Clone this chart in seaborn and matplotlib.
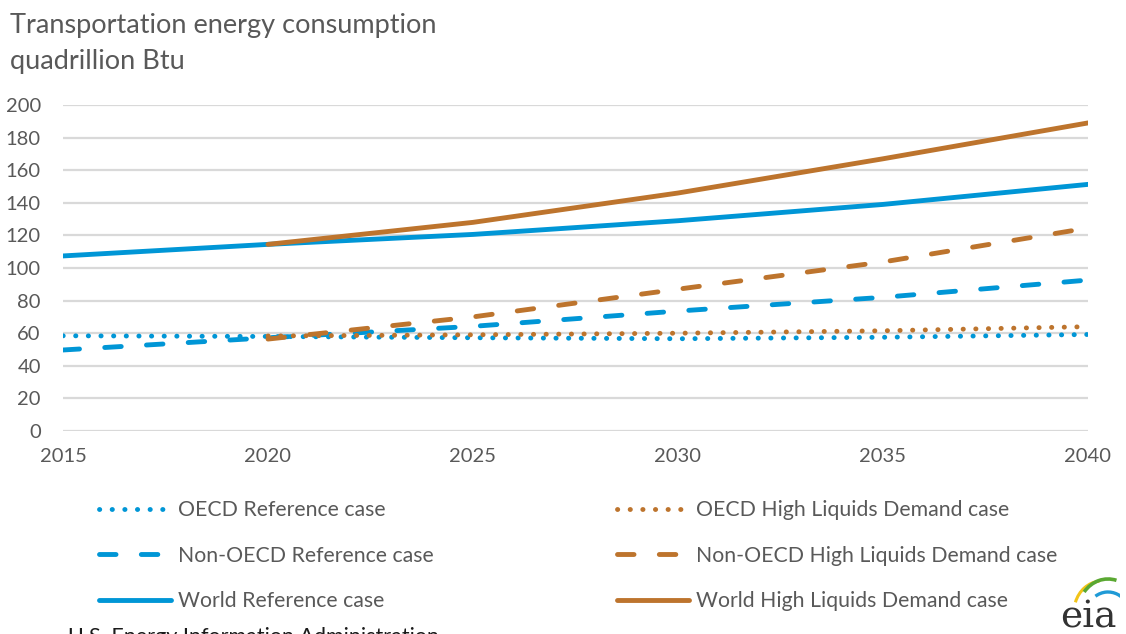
import matplotlib
matplotlib.use("Agg")
import matplotlib.pyplot as plt
import seaborn as sns
import pandas as pd
import numpy as np
from matplotlib.patches import Arc

# ---- data ----
years = [2015, 2020, 2025, 2030, 2035, 2040]
high_years = [2020, 2025, 2030, 2035, 2040]

oecd_ref = [58.4, 58.0, 57.2, 56.6, 57.5, 59.2]
nonoecd_ref = [49.7, 57.2, 64.2, 73.6, 82.0, 92.6]
world_ref = [107.4, 114.5, 120.6, 129.0, 139.0, 151.3]

oecd_high = [58.3, 59.0, 60.0, 61.5, 64.0]
nonoecd_high = [56.4, 70.0, 87.0, 103.7, 124.5]
world_high = [114.5, 128.0, 146.0, 167.0, 189.0]

yticks = [0, 20, 40, 60, 80, 100, 120, 140, 160, 180, 200]
xticks = [2015, 2020, 2025, 2030, 2035, 2040]

BLUE = "#0096d6"
BROWN = "#bd742d"
TEXT = "#595959"

sns.set_theme(style="white")
plt.rcParams["font.family"] = ["Lato", "DejaVu Sans"]

fig = plt.figure(figsize=(11.26, 6.34), dpi=100)
ax = fig.add_axes([63 / 1126, 1 - 431 / 634, (1088 - 63) / 1126, (431 - 105) / 634])

LW = 3.5
DOT = (0, (0.05, 2.55))
DASH = (0, (3.4, 5.2))

series = [
    ("OECD Reference case", years, oecd_ref, BLUE, DOT),
    ("Non-OECD Reference case", years, nonoecd_ref, BLUE, DASH),
    ("World Reference case", years, world_ref, BLUE, "-"),
    ("OECD High Liquids Demand case", high_years, oecd_high, BROWN, DOT),
    ("Non-OECD High Liquids Demand case", high_years, nonoecd_high, BROWN, DASH),
    ("World High Liquids Demand case", high_years, world_high, BROWN, "-"),
]

handles = []
for name, xs, ys, col, ls in series:
    df = pd.DataFrame({"year": xs, "value": ys})
    sns.lineplot(data=df, x="year", y="value", ax=ax, color=col, linewidth=LW,
                 linestyle=ls, label=name, legend=False)
    ln = ax.lines[-1]
    ln.set_dash_capstyle("round")
    ln.set_solid_capstyle("round")
    ln.set_solid_joinstyle("round")
    handles.append(ln)

ax.set_xlim(2015, 2040)
ax.set_ylim(0, 200)
ax.set_xticks(xticks)
ax.set_yticks(yticks)
ax.set_xticklabels([str(v) for v in xticks])
ax.set_yticklabels([str(v) for v in yticks])
ax.set_xlabel("")
ax.set_ylabel("")
ax.grid(axis="y", color="#d9d9d9", linewidth=1.6)
ax.grid(axis="x", visible=False)
ax.set_axisbelow(True)
for s in ax.spines.values():
    s.set_visible(False)
ax.tick_params(axis="both", length=0, labelsize=14.5, colors=TEXT)
ax.tick_params(axis="y", pad=16)
ax.tick_params(axis="x", pad=12)

# title
fig.text(10 / 1126, 1 - 25 / 634, "Transportation energy consumption", fontsize=19.5,
         color=TEXT, va="center", ha="left")
fig.text(10 / 1126, 1 - 62 / 634, "quadrillion Btu", fontsize=19.5,
         color=TEXT, va="center", ha="left")

# legends
leg_kw = dict(frameon=False, fontsize=15.3, handlelength=3.4, handletextpad=0.3,
              labelspacing=1.2, labelcolor=TEXT, borderaxespad=0, borderpad=0)
leg1 = fig.legend(handles[:3], [s[0] for s in series[:3]], loc="upper left",
                  bbox_to_anchor=(99 / 1126, 1 - 500 / 634), **leg_kw)
leg2 = fig.legend(handles[3:], [s[0] for s in series[3:]], loc="upper left",
                  bbox_to_anchor=(617 / 1126, 1 - 500 / 634), **leg_kw)

# source line (cut off at the bottom in the reference)
fig.text(68 / 1126, 1 - 627 / 634, "U.S. Energy Information Administration", fontsize=15.5,
         color="#1a1a1a", va="top", ha="left")

# eia logo
fig.text(1088 / 1126, 1 - 636 / 634, "eia", fontsize=27, family="DejaVu Serif",
         color="#333333", va="bottom", ha="center")
lax = fig.add_axes([1050 / 1126, 1 - 612 / 634, 70 / 1126, 40 / 634])
lax.set_xlim(0, 70)
lax.set_ylim(0, 40)
lax.axis("off")
lax.add_patch(Arc((52, 0), 56, 62, theta1=95, theta2=160, color="#f2c418", lw=2.2))
lax.add_patch(Arc((58, 0), 60, 66, theta1=75, theta2=140, color="#5aa832", lw=2.6))
lax.add_patch(Arc((58, -6), 46, 52, theta1=10, theta2=120, color="#1f9ad6", lw=2.4))

fig.savefig("out.png", dpi=100)
